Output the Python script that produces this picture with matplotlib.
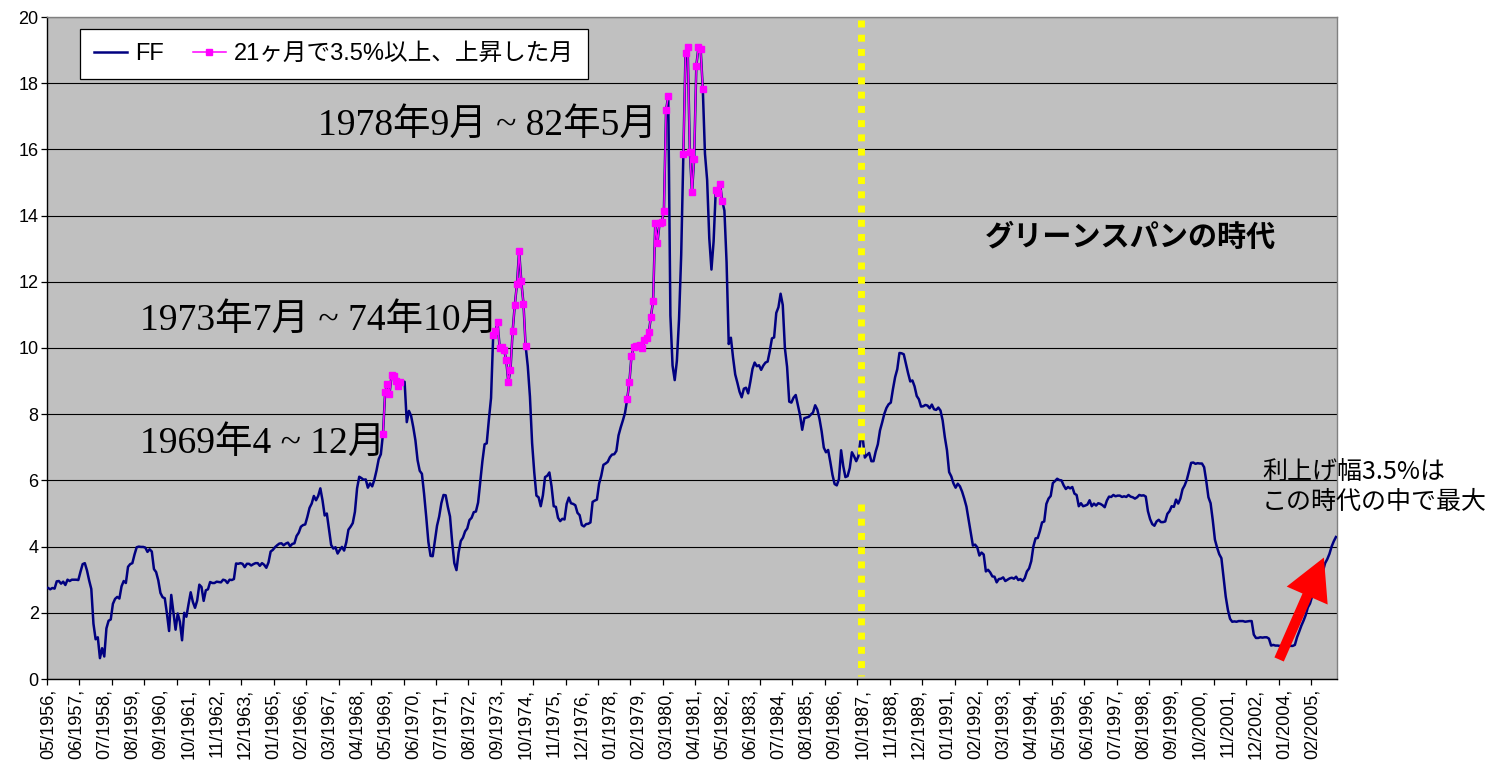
import matplotlib
matplotlib.use("Agg")
import numpy as np
import matplotlib.pyplot as plt
from matplotlib import font_manager
from matplotlib.lines import Line2D
from matplotlib.patches import FancyArrowPatch

# ---------------- data ----------------
START = (1956, 5)  # first month of the series

ff_1950s = [2.75, 2.71, 2.75, 2.73, 2.95, 2.96, 2.88, 2.94,
            2.84, 3.00, 2.96, 3.00, 3.00, 3.00, 2.99, 3.24, 3.47, 3.50, 3.28, 2.98,
            2.72, 1.67, 1.20, 1.26, 0.63, 0.93, 0.68, 1.53, 1.76, 1.80, 2.27, 2.42,
            2.48, 2.43, 2.80, 2.96, 2.90, 3.39, 3.47, 3.50, 3.76, 3.98, 4.00, 3.99]
ff_1960s = [3.99, 3.97, 3.84, 3.92, 3.85, 3.32, 3.23, 2.98, 2.60, 2.47, 2.44, 1.98,
            1.45, 2.54, 2.02, 1.49, 1.98, 1.73, 1.17, 2.00, 1.88, 2.26, 2.62, 2.33,
            2.15, 2.37, 2.85, 2.78, 2.36, 2.68, 2.71, 2.93, 2.90, 2.90, 2.94, 2.93,
            2.92, 3.00, 2.98, 2.90, 3.00, 2.99, 3.02, 3.49, 3.48, 3.50, 3.48, 3.38,
            3.48, 3.48, 3.43, 3.47, 3.50, 3.50, 3.42, 3.50, 3.45, 3.36, 3.52, 3.85,
            3.90, 3.98, 4.04, 4.09, 4.10, 4.04, 4.09, 4.12, 4.01, 4.08, 4.10, 4.32,
            4.42, 4.60, 4.65, 4.67, 4.90, 5.17, 5.30, 5.53, 5.40, 5.53, 5.76, 5.40,
            4.94, 5.00, 4.53, 4.05, 3.94, 3.98, 3.79, 3.90, 3.99, 3.88, 4.13, 4.51,
            4.60, 4.71, 5.05, 5.76, 6.11, 6.07, 6.02, 6.03, 5.78, 5.91, 5.82, 6.02,
            6.30, 6.64, 6.79, 7.41, 8.67, 8.90, 8.61, 9.19, 9.15, 9.00, 8.85, 8.97]
ff_1970s = [8.98, 8.98, 7.76, 8.10, 7.95, 7.61, 7.21, 6.61, 6.29, 6.20, 5.60, 4.90,
            4.14, 3.72, 3.71, 4.16, 4.63, 4.91, 5.31, 5.56, 5.55, 5.20, 4.91, 4.14,
            3.50, 3.29, 3.83, 4.17, 4.27, 4.46, 4.55, 4.80, 4.87, 5.04, 5.06, 5.33,
            5.94, 6.58, 7.09, 7.12, 7.84, 8.49, 10.40, 10.50, 10.78, 10.01, 10.03, 9.95,
            9.65, 8.97, 9.35, 10.51, 11.31, 11.93, 12.92, 12.01, 11.34, 10.06, 9.45, 8.53,
            7.13, 6.24, 5.54, 5.49, 5.22, 5.55, 6.10, 6.14, 6.24, 5.82, 5.22, 5.20,
            4.87, 4.77, 4.84, 4.82, 5.29, 5.48, 5.31, 5.29, 5.25, 5.02, 4.95, 4.65,
            4.61, 4.68, 4.69, 4.73, 5.35, 5.39, 5.42, 5.90, 6.14, 6.47, 6.51, 6.56,
            6.70, 6.78, 6.79, 6.89, 7.36, 7.60, 7.81, 8.04, 8.45, 8.96, 9.76, 10.03,
            10.07, 10.06, 10.09, 10.01, 10.24, 10.29, 10.47, 10.94, 11.43, 13.77, 13.18, 13.78]
ff_1980s = [13.82, 14.13, 17.19, 17.61, 10.98, 9.47, 9.03, 9.61, 10.87, 12.81, 15.85, 18.90,
            19.08, 15.93, 14.70, 15.72, 18.52, 19.10, 19.04, 17.82, 15.87, 15.08, 13.31, 12.37,
            13.22, 14.78, 14.68, 14.94, 14.45, 14.15, 12.59, 10.12, 10.31, 9.71, 9.20, 8.95,
            8.68, 8.51, 8.77, 8.80, 8.63, 8.98, 9.37, 9.56, 9.45, 9.48, 9.34, 9.47,
            9.56, 9.59, 9.91, 10.29, 10.32, 11.06, 11.23, 11.64, 11.30, 9.99, 9.43, 8.38,
            8.35, 8.50, 8.58, 8.27, 7.97, 7.53, 7.88, 7.90, 7.92, 7.99, 8.05, 8.27,
            8.14, 7.86, 7.48, 6.99, 6.85, 6.92, 6.56, 6.17, 5.89, 5.85, 6.04, 6.91,
            6.43, 6.10, 6.13, 6.37, 6.85, 6.73, 6.58, 6.73, 7.22, 7.29, 6.69, 6.77,
            6.83, 6.58, 6.58, 6.87, 7.09, 7.51, 7.75, 8.01, 8.19, 8.30, 8.35, 8.76,
            9.12, 9.36, 9.85, 9.84, 9.81, 9.53, 9.24, 8.99, 9.02, 8.84, 8.55, 8.45]
ff_1990s = [8.23, 8.24, 8.28, 8.26, 8.18, 8.29, 8.15, 8.13, 8.20, 8.11, 7.81, 7.31,
            6.91, 6.25, 6.12, 5.91, 5.78, 5.90, 5.82, 5.66, 5.45, 5.21, 4.81, 4.43,
            4.03, 4.06, 3.98, 3.73, 3.82, 3.76, 3.25, 3.30, 3.22, 3.10, 3.09, 2.92,
            3.02, 3.03, 3.07, 2.96, 3.00, 3.04, 3.06, 3.03, 3.09, 2.99, 3.02, 2.96,
            3.05, 3.25, 3.34, 3.56, 4.01, 4.25, 4.26, 4.47, 4.73, 4.76, 5.29, 5.45,
            5.53, 5.92, 5.98, 6.05, 6.01, 6.00, 5.85, 5.74, 5.80, 5.76, 5.80, 5.60,
            5.56, 5.22, 5.31, 5.22, 5.24, 5.27, 5.40, 5.22, 5.30, 5.24, 5.31, 5.29,
            5.25, 5.19, 5.39, 5.51, 5.50, 5.56, 5.52, 5.54, 5.54, 5.50, 5.52, 5.50,
            5.56, 5.51, 5.49, 5.45, 5.49, 5.56, 5.54, 5.55, 5.51, 5.07, 4.83, 4.68,
            4.63, 4.76, 4.81, 4.74, 4.74, 4.76, 4.99, 5.07, 5.22, 5.20, 5.42, 5.30]
ff_2000s = [5.45, 5.73, 5.85, 6.02, 6.27, 6.53, 6.54, 6.50, 6.52, 6.51, 6.51, 6.40,
            5.98, 5.49, 5.31, 4.80, 4.21, 3.97, 3.77, 3.65, 3.07, 2.49, 2.09, 1.82,
            1.73, 1.74, 1.73, 1.75, 1.75, 1.75, 1.73, 1.74, 1.75, 1.75, 1.34, 1.24,
            1.24, 1.26, 1.25, 1.26, 1.26, 1.22, 1.01, 1.03, 1.01, 1.01, 1.00, 0.98,
            1.00, 1.01, 1.00, 1.00, 1.00, 1.03, 1.26, 1.43, 1.61, 1.76, 1.93, 2.16,
            2.28, 2.50, 2.63, 2.79, 3.00, 3.04, 3.26, 3.50, 3.62, 3.78, 4.00, 4.16,
            4.29]

# months in which the rate rose 3.5% or more over 21 months
rise_periods = [("1969-04", "1969-12"), ("1973-07", "1974-10"),
                ("1978-09", "1980-04"), ("1980-11", "1981-08"),
                ("1982-02", "1982-05")]

tick_labels = ["05/1956,", "06/1957,", "07/1958,", "08/1959,", "09/1960,", "10/1961,",
               "11/1962,", "12/1963,", "01/1965,", "02/1966,", "03/1967,", "04/1968,",
               "05/1969,", "06/1970,", "07/1971,", "08/1972,", "09/1973,", "10/1974,",
               "11/1975,", "12/1976,", "01/1978,", "02/1979,", "03/1980,", "04/1981,",
               "05/1982,", "06/1983,", "07/1984,", "08/1985,", "09/1986,", "10/1987,",
               "11/1988,", "12/1989,", "01/1991,", "02/1992,", "03/1993,", "04/1994,",
               "05/1995,", "06/1996,", "07/1997,", "08/1998,", "09/1999,", "10/2000,",
               "11/2001,", "12/2002,", "01/2004,", "02/2005,"]

greenspan_start = "1987-09"
legend_labels = ["FF", "21ヶ月で3.5%以上、上昇した月"]

# ---------------- helpers ----------------
def month_index(year, month):
    return (year - START[0]) * 12 + (month - START[1])

def idx_from_ym(s):
    y, m = s.split("-")
    return month_index(int(y), int(m))

ff = np.array(ff_1950s + ff_1960s + ff_1970s + ff_1980s + ff_1990s + ff_2000s)
n = len(ff)
x = np.arange(n)

rise = np.full(n, np.nan)
for a, b in rise_periods:
    i0, i1 = idx_from_ym(a), idx_from_ym(b)
    rise[i0:i1 + 1] = ff[i0:i1 + 1]

label_pos = []
for lab in tick_labels:
    mm, yy = lab.rstrip(",").split("/")
    label_pos.append(month_index(int(yy), int(mm)))

names = {f.name for f in font_manager.fontManager.ttflist}
NARROW = "Liberation Sans Narrow" if "Liberation Sans Narrow" in names else "Liberation Sans"
CJK = "Noto Sans CJK JP"
SERIF = ["Liberation Serif", CJK]
SANS = ["Liberation Sans", CJK, "DejaVu Sans"]

NAVY = "#000080"
MAGENTA = "#FF00FF"

# ---------------- figure ----------------
W, H = 1501, 768
fig = plt.figure(figsize=(W / 100, H / 100), dpi=100)
L, R, T, B = 47, 1337, 17, 679
ax = fig.add_axes([L / W, (H - B) / H, (R - L) / W, (B - T) / H])
ax.set_facecolor("#C0C0C0")

ax.set_xlim(-0.5, n - 0.5)
ax.set_ylim(0, 20)

# grid
ax.set_yticks(np.arange(0, 21, 2))
ax.yaxis.grid(True, color="black", linewidth=0.8)
ax.set_axisbelow(True)

# spines
for s in ("top", "right"):
    ax.spines[s].set_color("#808080")
    ax.spines[s].set_linewidth(1.0)
for s in ("left", "bottom"):
    ax.spines[s].set_color("black")
    ax.spines[s].set_linewidth(1.0)

# y ticks
ax.tick_params(axis="y", which="major", direction="out", length=4, width=0.9,
               pad=2, labelsize=13)
for t in ax.get_yticklabels():
    t.set_family(NARROW)

# x ticks: marks every 15 months (category boundaries), labels every 13 months
ax.set_xticks(np.arange(-0.5, n, 15))
ax.set_xticklabels([])
ax.tick_params(axis="x", which="major", direction="out", length=4, width=0.9)
ax.set_xticks(label_pos, minor=True)
ax.set_xticklabels(tick_labels, minor=True, rotation=90, fontsize=13,
                   family="Liberation Sans")
ax.tick_params(axis="x", which="minor", length=0, pad=7)

# series
ax.plot(x, ff, color=NAVY, linewidth=1.8, zorder=3)
ax.plot(x, rise, color=MAGENTA, linewidth=1.1, marker="s", markersize=5,
        markeredgecolor=MAGENTA, markerfacecolor=MAGENTA, zorder=4)

# Greenspan line (yellow dotted)
xg = idx_from_ym(greenspan_start) + 0.35
for y0, y1 in [(19.9, 6.65), (5.3, 0.1)]:
    ax.plot([xg, xg], [y0, y1], color="#FFFF00", linewidth=5.0,
            dashes=(1, 1.05), dash_capstyle="butt", solid_capstyle="butt", zorder=5)

# legend
handles = [Line2D([], [], color=NAVY, linewidth=1.8),
           Line2D([], [], color=MAGENTA, linewidth=1.1, marker="s", markersize=5)]
leg = ax.legend(handles, legend_labels, loc="upper left",
                bbox_to_anchor=((80 - L) / (R - L), (B - 29) / (B - T)),
                ncol=2, frameon=True, fancybox=False, framealpha=1,
                edgecolor="black", facecolor="white",
                prop={"family": SANS, "size": 17},
                handlelength=1.4, handletextpad=0.35, columnspacing=1.2,
                borderpad=0.6, borderaxespad=0)
leg.get_frame().set_linewidth(0.9)
leg.set_zorder(10)

def fx(px):
    return (px - L) / (R - L)

def fy(py):
    return (B - py) / (B - T)

# annotations
ax.text(fx(318), fy(125), "1978年9月 ~ 82年5月", transform=ax.transAxes,
        fontsize=27, family=SERIF, va="center", ha="left", zorder=6)
ax.text(fx(140), fy(320), "1973年7月 ~ 74年10月", transform=ax.transAxes,
        fontsize=27, family=SERIF, va="center", ha="left", zorder=6)
ax.text(fx(140), fy(443), "1969年4 ~ 12月", transform=ax.transAxes,
        fontsize=27, family=SERIF, va="center", ha="left", zorder=6)
ax.text(fx(985), fy(237), "グリーンスパンの時代", transform=ax.transAxes,
        fontsize=21, family=[CJK], fontweight="bold", va="center", ha="left", zorder=6)
ax.text(fx(1262), fy(487), "利上げ幅3.5%は\nこの時代の中で最大", transform=ax.transAxes,
        fontsize=18, family=[CJK, "DejaVu Sans"], va="center", ha="left",
        linespacing=1.15, zorder=6, clip_on=False)

# red arrow
arrow = FancyArrowPatch((fx(1278), fy(662)), (fx(1325), fy(555)),
                        transform=ax.transAxes,
                        arrowstyle="Simple,head_length=1.3,head_width=1.4,tail_width=0.32",
                        mutation_scale=23, color="#FF0000", linewidth=0, zorder=7,
                        clip_on=False)
ax.add_patch(arrow)

fig.savefig("out.png", dpi=100)
